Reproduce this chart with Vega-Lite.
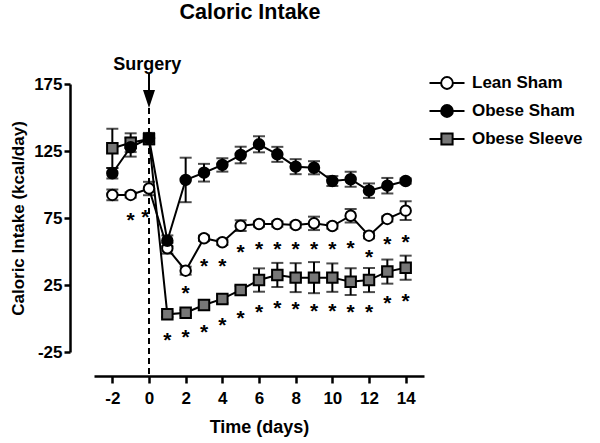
{
  "$schema": "https://vega.github.io/schema/vega-lite/v6.json",
  "width": 330,
  "height": 268,
  "autosize": "none",
  "padding": {"left": 94, "top": 84, "right": 176, "bottom": 91},
  "background": "white",
  "config": {
    "font": "Liberation Sans",
    "view": {"stroke": null},
    "axis": {"grid": false, "domainColor": "black", "tickColor": "black", "labelColor": "black", "titleColor": "black", "labelFont": "Liberation Sans", "titleFont": "Liberation Sans"},
    "legend": {"title": null, "orient": "none", "legendX": 338, "legendY": -16, "padding": 0, "rowPadding": 3,
      "labelFontSize": 17, "labelFontWeight": "bold", "labelColor": "black", "labelFont": "Liberation Sans", "labelOffset": 10,
      "symbolSize": 784, "symbolStrokeColor": "black", "symbolStrokeWidth": 2, "symbolOpacity": 1}
  },
  "title": {"text": "Caloric Intake", "fontSize": 21.5, "fontWeight": "bold", "color": "black", "frame": "group", "anchor": "middle", "offset": 16, "dx": -9, "baseline": "alphabetic"},
  "datasets": {
    "series": [
      {"group": "Lean Sham", "day": -2, "mean": 92.2, "sem": 4},
      {"group": "Lean Sham", "day": -1, "mean": 92.2, "sem": 2},
      {"group": "Lean Sham", "day": 0, "mean": 97, "sem": 5},
      {"group": "Lean Sham", "day": 1, "mean": 52.4, "sem": 4},
      {"group": "Lean Sham", "day": 2, "mean": 35.7, "sem": 3},
      {"group": "Lean Sham", "day": 3, "mean": 59.9, "sem": 2},
      {"group": "Lean Sham", "day": 4, "mean": 56.9, "sem": 2},
      {"group": "Lean Sham", "day": 5, "mean": 69.3, "sem": 4},
      {"group": "Lean Sham", "day": 6, "mean": 70.5, "sem": 2},
      {"group": "Lean Sham", "day": 7, "mean": 70.5, "sem": 2},
      {"group": "Lean Sham", "day": 8, "mean": 69.8, "sem": 2},
      {"group": "Lean Sham", "day": 9, "mean": 71, "sem": 5},
      {"group": "Lean Sham", "day": 10, "mean": 69, "sem": 2},
      {"group": "Lean Sham", "day": 11, "mean": 76.7, "sem": 5},
      {"group": "Lean Sham", "day": 12, "mean": 61.8, "sem": 2},
      {"group": "Lean Sham", "day": 13, "mean": 74.3, "sem": 2},
      {"group": "Lean Sham", "day": 14, "mean": 80.5, "sem": 7},
      {"group": "Obese Sham", "day": -2, "mean": 108.4, "sem": 4},
      {"group": "Obese Sham", "day": -1, "mean": 127.8, "sem": 7},
      {"group": "Obese Sham", "day": 0, "mean": 134.5, "sem": 4},
      {"group": "Obese Sham", "day": 1, "mean": 58, "sem": 4},
      {"group": "Obese Sham", "day": 2, "mean": 103.4, "sem": 16.6},
      {"group": "Obese Sham", "day": 3, "mean": 108.8, "sem": 6.6},
      {"group": "Obese Sham", "day": 4, "mean": 114.6, "sem": 5},
      {"group": "Obese Sham", "day": 5, "mean": 122, "sem": 6.2},
      {"group": "Obese Sham", "day": 6, "mean": 130, "sem": 6},
      {"group": "Obese Sham", "day": 7, "mean": 122.5, "sem": 5.6},
      {"group": "Obese Sham", "day": 8, "mean": 113.3, "sem": 5.6},
      {"group": "Obese Sham", "day": 9, "mean": 112.5, "sem": 4.9},
      {"group": "Obese Sham", "day": 10, "mean": 102.6, "sem": 3.7},
      {"group": "Obese Sham", "day": 11, "mean": 103.9, "sem": 5.6},
      {"group": "Obese Sham", "day": 12, "mean": 95.4, "sem": 5.4},
      {"group": "Obese Sham", "day": 13, "mean": 99.1, "sem": 5.8},
      {"group": "Obese Sham", "day": 14, "mean": 102.6, "sem": 2},
      {"group": "Obese Sleeve", "day": -2, "mean": 127, "sem": 14.6},
      {"group": "Obese Sleeve", "day": -1, "mean": 131.2, "sem": 7},
      {"group": "Obese Sleeve", "day": 0, "mean": 134, "sem": 4},
      {"group": "Obese Sleeve", "day": 1, "mean": 3.1, "sem": 2},
      {"group": "Obese Sleeve", "day": 2, "mean": 4.3, "sem": 2},
      {"group": "Obese Sleeve", "day": 3, "mean": 10.1, "sem": 2},
      {"group": "Obese Sleeve", "day": 4, "mean": 14.6, "sem": 3},
      {"group": "Obese Sleeve", "day": 5, "mean": 21.3, "sem": 3},
      {"group": "Obese Sleeve", "day": 6, "mean": 28.7, "sem": 8.7},
      {"group": "Obese Sleeve", "day": 7, "mean": 32.5, "sem": 9},
      {"group": "Obese Sleeve", "day": 8, "mean": 30.5, "sem": 10.8},
      {"group": "Obese Sleeve", "day": 9, "mean": 30.5, "sem": 11.6},
      {"group": "Obese Sleeve", "day": 10, "mean": 30.5, "sem": 10.6},
      {"group": "Obese Sleeve", "day": 11, "mean": 27.5, "sem": 10},
      {"group": "Obese Sleeve", "day": 12, "mean": 28.7, "sem": 9},
      {"group": "Obese Sleeve", "day": 13, "mean": 35, "sem": 9},
      {"group": "Obese Sleeve", "day": 14, "mean": 37.9, "sem": 9}
    ],
    "stars": [
      {"group": "Lean Sham", "day": -1, "y": 77.2},
      {"group": "Lean Sham", "day": -0.2, "y": 79.7},
      {"group": "Lean Sham", "day": 2, "y": 22.5},
      {"group": "Lean Sham", "day": 3, "y": 43.1},
      {"group": "Lean Sham", "day": 4, "y": 43.1},
      {"group": "Lean Sham", "day": 5, "y": 53.1},
      {"group": "Lean Sham", "day": 6, "y": 55.6},
      {"group": "Lean Sham", "day": 7, "y": 55.6},
      {"group": "Lean Sham", "day": 8, "y": 55.6},
      {"group": "Lean Sham", "day": 9, "y": 55.6},
      {"group": "Lean Sham", "day": 10, "y": 55.6},
      {"group": "Lean Sham", "day": 11, "y": 56.6},
      {"group": "Lean Sham", "day": 12, "y": 49.9},
      {"group": "Lean Sham", "day": 13, "y": 59.3},
      {"group": "Lean Sham", "day": 14, "y": 61},
      {"group": "Obese Sleeve", "day": 1, "y": -12.3},
      {"group": "Obese Sleeve", "day": 2, "y": -9.8},
      {"group": "Obese Sleeve", "day": 3, "y": -6.1},
      {"group": "Obese Sleeve", "day": 4, "y": -1.1},
      {"group": "Obese Sleeve", "day": 5, "y": 4.3},
      {"group": "Obese Sleeve", "day": 6, "y": 8.4},
      {"group": "Obese Sleeve", "day": 7, "y": 11.3},
      {"group": "Obese Sleeve", "day": 8, "y": 10.8},
      {"group": "Obese Sleeve", "day": 9, "y": 9.3},
      {"group": "Obese Sleeve", "day": 10, "y": 9.3},
      {"group": "Obese Sleeve", "day": 11, "y": 8.4},
      {"group": "Obese Sleeve", "day": 12, "y": 8.4},
      {"group": "Obese Sleeve", "day": 13, "y": 15.5},
      {"group": "Obese Sleeve", "day": 14, "y": 17}
    ],
    "one": [{}]
  },
  "encoding": {
    "x": {"type": "quantitative", "scale": {"domain": [-3, 15], "nice": false, "zero": false},
      "axis": {"title": "Time (days)", "offset": 24, "values": [-2, 0, 2, 4, 6, 8, 10, 12, 14], "labelExpr": "'' + datum.value", "domainWidth": 2.5, "tickWidth": 2.5, "tickSize": 7, "labelFontSize": 17, "labelFontWeight": "bold", "labelPadding": 7, "titleFontSize": 18, "titleFontWeight": "bold", "titlePadding": 12}},
    "y": {"type": "quantitative", "scale": {"domain": [-25, 175], "nice": false, "zero": false},
      "axis": {"title": "Caloric Intake (kcal/day)", "offset": 24, "values": [-25, 25, 75, 125, 175], "labelExpr": "'' + datum.value", "domainWidth": 2.5, "tickWidth": 2.5, "tickSize": 6, "labelFontSize": 17, "labelFontWeight": "bold", "labelPadding": 2, "titleFontSize": 17, "titleFontWeight": "bold", "titlePadding": 6}}
  },
  "layer": [
    {
      "data": {"name": "one"},
      "mark": {"type": "rule", "strokeDash": [6, 4], "strokeWidth": 2, "color": "black"},
      "encoding": {"x": {"datum": 0}, "y": {"datum": 157}, "y2": {"datum": -42.9}}
    },
    {
      "data": {"name": "one"},
      "mark": {"type": "rule", "strokeWidth": 2, "color": "black"},
      "encoding": {"x": {"datum": 0}, "y": {"datum": 183.2}, "y2": {"datum": 164}}
    },
    {
      "data": {"name": "one"},
      "mark": {"type": "point", "shape": "M-1,-1.5L1,-1.5L0,1.5Z", "filled": true, "fill": "black", "strokeWidth": 0, "opacity": 1, "size": 144},
      "encoding": {"x": {"datum": 0}, "y": {"datum": 163.8}}
    },
    {
      "data": {"name": "one"},
      "mark": {"type": "text", "text": "Surgery", "fontSize": 18, "fontWeight": "bold", "baseline": "alphabetic", "align": "center", "color": "black"},
      "encoding": {"x": {"datum": -0.1}, "y": {"datum": 185.1}}
    },
    {
      "data": {"name": "series"},
      "mark": {"type": "errorbar", "color": "black", "ticks": {"size": 12, "thickness": 2, "color": "black"}, "rule": {"strokeWidth": 2, "color": "black"}},
      "encoding": {
        "x": {"field": "day", "type": "quantitative"},
        "y": {"field": "mean", "type": "quantitative"},
        "yError": {"field": "sem"},
        "detail": {"field": "group"}
      }
    },
    {
      "data": {"name": "series"},
      "mark": {"type": "line", "color": "black", "strokeWidth": 2},
      "encoding": {
        "x": {"field": "day", "type": "quantitative"},
        "y": {"field": "mean", "type": "quantitative"},
        "detail": {"field": "group"}
      }
    },
    {
      "data": {"name": "series"},
      "mark": {"type": "point", "filled": true, "stroke": "black", "strokeWidth": 2, "opacity": 0, "size": 784},
      "encoding": {
        "x": {"field": "day", "type": "quantitative"},
        "y": {"field": "mean", "type": "quantitative"},
        "fill": {"field": "group", "type": "nominal",
          "scale": {"domain": ["Lean Sham", "Obese Sham", "Obese Sleeve"], "range": ["white", "black", "#777777"]},
          "legend": {"encode": {"symbols": {"update": {"stroke": {"value": "black"}, "strokeWidth": {"value": 2}, "opacity": {"value": 1}}}}}},
        "shape": {"field": "group", "type": "nominal",
          "scale": {"domain": ["Lean Sham", "Obese Sham", "Obese Sleeve"], "range": ["M-1.25,0H-0.42M0.42,0H1.25M0.42,0A0.42,0.42,0,1,1,-0.42,0A0.42,0.42,0,1,1,0.42,0Z", "M-1.25,0H-0.42M0.42,0H1.25M0.42,0A0.42,0.42,0,1,1,-0.42,0A0.42,0.42,0,1,1,0.42,0Z", "M-1.25,0H-0.4M0.4,0H1.25M-0.4,-0.4H0.4V0.4H-0.4Z"]},
          "legend": {"encode": {"symbols": {"update": {"stroke": {"value": "black"}, "strokeWidth": {"value": 2}, "opacity": {"value": 1}}}}}}
      }
    },
    {
      "data": {"name": "series"},
      "transform": [{"filter": "datum.group === 'Lean Sham'"}],
      "mark": {"type": "point", "shape": "circle", "filled": true, "fill": "white", "stroke": "black", "strokeWidth": 2, "opacity": 1, "size": 110},
      "encoding": {
        "x": {"field": "day", "type": "quantitative"},
        "y": {"field": "mean", "type": "quantitative"}
      }
    },
    {
      "data": {"name": "series"},
      "transform": [{"filter": "datum.group === 'Obese Sleeve'"}],
      "mark": {"type": "point", "shape": "square", "filled": true, "fill": "#777777", "stroke": "black", "strokeWidth": 2, "opacity": 1, "size": 110},
      "encoding": {
        "x": {"field": "day", "type": "quantitative"},
        "y": {"field": "mean", "type": "quantitative"}
      }
    },
    {
      "data": {"name": "series"},
      "transform": [{"filter": "datum.group === 'Obese Sham'"}],
      "mark": {"type": "point", "shape": "circle", "filled": true, "fill": "black", "stroke": "black", "strokeWidth": 2, "opacity": 1, "size": 110},
      "encoding": {
        "x": {"field": "day", "type": "quantitative"},
        "y": {"field": "mean", "type": "quantitative"}
      }
    },
    {
      "data": {"name": "stars"},
      "mark": {"type": "text", "text": "*", "fontSize": 21, "fontWeight": "bold", "baseline": "alphabetic", "align": "center", "dy": 12, "color": "black"},
      "encoding": {
        "x": {"field": "day", "type": "quantitative"},
        "y": {"field": "y", "type": "quantitative"}
      }
    }
  ]
}
